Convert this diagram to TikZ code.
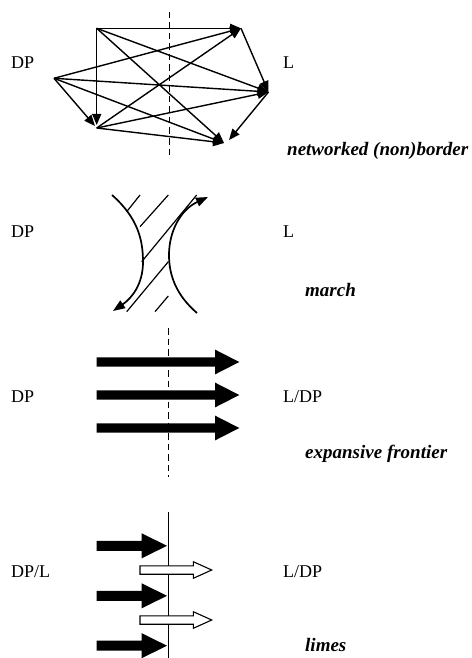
\documentclass[tikz,border=0pt]{standalone}
\usepackage{fontspec}
\setmainfont{Liberation Serif}
\usetikzlibrary{arrows.meta}
\tikzset{
  lbl/.style={font=\fontsize{18}{20}\selectfont, inner sep=0pt, anchor=base west},
  tag/.style={font=\fontsize{19}{21}\selectfont\bfseries\itshape, inner sep=0pt, anchor=base west},
  net/.style={line width=1.4pt, -{Triangle[length=11pt,width=9pt]}},
  border/.style={line width=1.5pt, dash pattern=on 6.5pt off 4pt},
  hatch/.style={line width=1.2pt},
  curve/.style={line width=1.7pt, -{Triangle[length=12pt,width=9pt]}},
  fat/.style={fill=black},
  hollow/.style={fill=white, draw=black, line width=1.1pt},
}
\begin{document}
\begin{tikzpicture}[x=1pt,y=-1pt]
\useasboundingbox (0,0) rectangle (471,658);
% ---------- networked (non)border ----------
\coordinate (A) at (96.7,28.3);
\coordinate (B) at (54,78.3);
\coordinate (C) at (95,126);
\coordinate (C0) at (96.7,128);
\coordinate (Cv) at (96.7,125);
\coordinate (D) at (241,28.3);
\coordinate (E) at (268.5,92);
\coordinate (F) at (224,143);
\coordinate (F2) at (229,140);
\coordinate (b1t) at (169.3,12);
\coordinate (b1b) at (169.3,155);
\draw[border] (b1t) -- (b1b);
\draw[net] (A) -- (D);
\draw[net] (A) -- (Cv);
\draw[net] (A) -- (E);
\draw[net] (A) -- (F);
\draw[net] (B) -- (D);
\draw[net] (B) -- (E);
\draw[net] (B) -- (F);
\draw[net] (B) -- (C);
\draw[net] (C0) -- (D);
\draw[net] (C0) -- (E);
\draw[net] (C0) -- (F);
\draw[net] (D) -- (E);
\draw[net] (E) -- (F2);
\node[lbl] (dp1) at (11,69) {DP};
\node[lbl] (l1) at (283,69) {L};
\node[tag] (t1) at (287,155) {networked (non)border};
% ---------- march ----------
\draw[curve] (112,195) .. controls (138,218) and (143,240) .. (143,262)
  .. controls (143,284) and (132,298) .. (113,311);
\draw[curve] (197,313) .. controls (176,295) and (169,275) .. (169,255)
  .. controls (169,232) and (180,210) .. (208,197);
\draw[hatch] (126.7,211.7) -- (140,195);
\draw[hatch] (140,226.7) -- (168.3,195);
\draw[hatch] (141.7,261.7) -- (196.7,195);
\draw[hatch] (126.7,311.7) -- (168.3,261.7);
\draw[hatch] (155,311.7) -- (168.3,296);
\node[lbl] (dp2) at (11,237) {DP};
\node[lbl] (l2) at (283,237) {L};
\node[tag] (t2) at (305,296) {march};
% ---------- expansive frontier ----------
\draw[border] (168.3,328) -- (168.3,477);
\foreach \y in {362,395,428}{
  \fill[fat] (96.7,\y-4.6) -- (215,\y-4.6) -- (215,\y-12.4) -- (239.3,\y)
    -- (215,\y+12.4) -- (215,\y+4.6) -- (96.7,\y+4.6) -- cycle;
}
\node[lbl] (dp3) at (11,402) {DP};
\node[lbl] (l3) at (283,402) {L/DP};
\node[tag] (t3) at (305,458) {expansive frontier};
% ---------- limes ----------
\draw[line width=1.5pt] (168.3,511.7) -- (168.3,658);
\foreach \y in {545.8,595.8,645.7}{
  \fill[fat] (96.7,\y-5) -- (141.7,\y-5) -- (141.7,\y-12.5) -- (167,\y)
    -- (141.7,\y+12.5) -- (141.7,\y+5) -- (96.7,\y+5) -- cycle;
}
\foreach \y in {570,620}{
  \filldraw[hollow] (140,\y-4.2) -- (193.3,\y-4.2) -- (193.3,\y-8.3) -- (211.7,\y)
    -- (193.3,\y+8.3) -- (193.3,\y+4.2) -- (140,\y+4.2) -- cycle;
}
\node[lbl] (dp4) at (11,577) {DP/L};
\node[lbl] (l4) at (283,577) {L/DP};
\node[tag] (t4) at (305,651) {limes};
\end{tikzpicture}
\end{document}
